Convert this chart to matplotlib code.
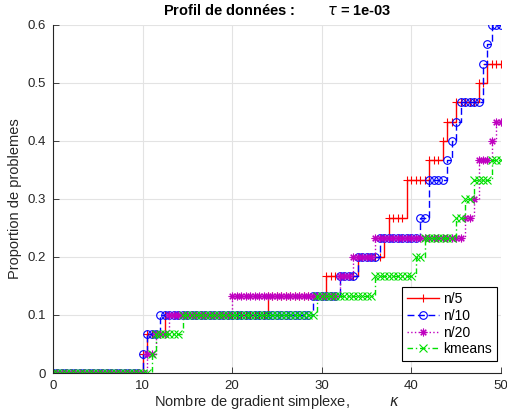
import numpy as np
import matplotlib
matplotlib.use("Agg")
import matplotlib.pyplot as plt

plt.rcParams['font.family'] = ['Liberation Sans', 'DejaVu Sans']

# number of simplex gradients each solver needed to solve a problem
# (30 problems in total, unsolved ones are simply left out)
n_problems = 30
cost_n5 = [10, 10.5, 12.5, 24, 30.5, 34, 37, 37.5, 39.5, 39.5,
           42, 43.5, 44, 45, 47.5, 48.5]
cost_n10 = [10, 10.5, 12, 29, 32, 34, 36.5, 41, 42, 42,
            44, 44.5, 45, 45.5, 48, 48, 48.5, 49]
cost_n20 = [10.5, 11.5, 13, 20, 32, 33.5, 36, 46, 47, 47.5, 47.5, 49, 49.5]
cost_kmeans = [11, 11.5, 14.5, 29.5, 36, 40.5, 41.5, 45, 46, 47, 49]

labels = ["n/5", "n/10", "n/20", "kmeans"]
kappa = np.arange(0, 50.5, 0.5)


def profile(costs):
    c = np.sort(np.asarray(costs, dtype=float))
    return np.searchsorted(c, kappa, side="right") / n_problems


fig = plt.figure(figsize=(5.07, 4.15), dpi=100)
ax = fig.add_axes([0.1045, 0.1012, 0.8835, 0.8386])

styles = [
    dict(color="r", linestyle="-", marker="+"),
    dict(color="b", linestyle=(0, (5, 2.5)), marker="o", markerfacecolor="none"),
    dict(color="m", linestyle=":", marker=(8, 2, 0)),
    dict(color="#00e000", linestyle=(0, (4, 2, 1, 2)), marker="x"),
]
for costs, lab, st in zip([cost_n5, cost_n10, cost_n20, cost_kmeans],
                          labels, styles):
    ax.plot(kappa, profile(costs), drawstyle="steps-post", linewidth=1,
            markersize=5.5, markeredgewidth=0.8, label=lab, **st)

ax.set_xlim(0, 50)
ax.set_ylim(0, 0.6)
ax.set_xticks(np.arange(0, 51, 10))
ax.set_yticks(np.arange(0, 0.61, 0.1))
ax.set_yticklabels(["0", "0.1", "0.2", "0.3", "0.4", "0.5", "0.6"])
ax.grid(True, color="#e3e3e3", linewidth=0.8)
ax.set_axisbelow(True)
for side in ["top", "right"]:
    ax.spines[side].set_visible(False)
for side in ["left", "bottom"]:
    ax.spines[side].set_color("#262626")
    ax.spines[side].set_linewidth(0.8)
ax.tick_params(direction="in", length=4, width=0.6, colors="#262626",
               labelsize=9.5, pad=5)

ax.set_xlabel("Nombre de gradient simplexe,          $\\kappa$",
              fontsize=10.5, color="#262626", labelpad=1)
ax.set_ylabel("Proportion de problemes", fontsize=10.5, color="#262626",
              labelpad=4)
ax.set_title("Profil de données :        $\\tau$ = 1e-03",
             fontsize=10.5, fontweight="bold", pad=7)

leg = ax.legend(loc="lower right", bbox_to_anchor=(0.991, 0.034),
                fontsize=10, handlelength=2.3, handletextpad=0.3,
                labelspacing=0.2, borderpad=0.35, fancybox=False,
                edgecolor="k", framealpha=1, borderaxespad=0)
leg.get_frame().set_linewidth(0.8)

fig.savefig("out.png", dpi=100)
